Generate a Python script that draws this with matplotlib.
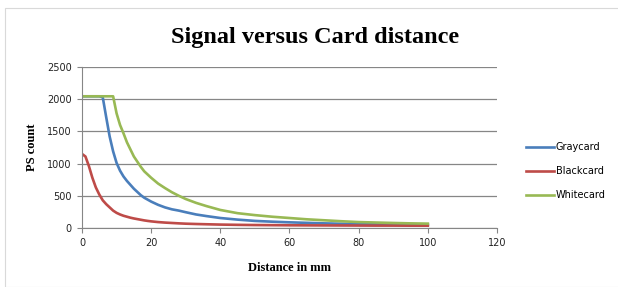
import matplotlib
matplotlib.use("Agg")
import matplotlib.pyplot as plt
from matplotlib.patches import Rectangle

# distance in mm
distance = [0, 1, 2, 3, 4, 5, 6, 7, 8, 9, 10, 11, 12, 13, 14, 15, 16, 17, 18, 19,
            20, 22, 24, 26, 28, 30, 33, 36, 40, 45, 50, 55, 60, 65, 70, 75, 80,
            85, 90, 95, 100]

graycard = [2045, 2045, 2045, 2045, 2045, 2045, 2030, 1720, 1420, 1190, 1010, 890,
            800, 730, 670, 610, 560, 510, 470, 440, 410, 360, 320, 290, 270, 245,
            210, 185, 155, 130, 110, 98, 88, 80, 72, 66, 60, 57, 55, 53, 52]

blackcard = [1150, 1110, 960, 780, 630, 520, 430, 370, 320, 270, 235, 210, 190,
             175, 160, 148, 138, 128, 118, 110, 103, 92, 84, 78, 72, 67, 62, 58,
             53, 49, 46, 44, 42, 41, 40, 39, 38, 37, 37, 36, 36]

whitecard = [2045, 2045, 2045, 2045, 2045, 2045, 2045, 2045, 2045, 2045, 1780, 1600,
             1470, 1330, 1220, 1110, 1030, 950, 880, 830, 780, 690, 620, 555, 500,
             450, 390, 340, 280, 230, 200, 175, 155, 135, 120, 105, 92, 85, 78, 72, 68]

xticks = [0, 20, 40, 60, 80, 100, 120]
yticks = [0, 500, 1000, 1500, 2000, 2500]

fig = plt.figure(figsize=(6.18, 2.87), dpi=100)
fig.patches.append(Rectangle((5 / 618, 0), 1.0, 1 - 8 / 287, transform=fig.transFigure,
                             fill=False, edgecolor="#d9d9d9", linewidth=0.8))
ax = fig.add_axes([82 / 618, 1 - 228 / 287, 415 / 618, 161 / 287])

ax.plot(distance, graycard, color="#4a7ebb", lw=1.9, label="Graycard")
ax.plot(distance, blackcard, color="#be4b48", lw=1.9, label="Blackcard")
ax.plot(distance, whitecard, color="#98b954", lw=1.9, label="Whitecard")

ax.set_xlim(0, 120)
ax.set_ylim(0, 2500)
ax.set_xticks(xticks)
ax.set_yticks(yticks)
ax.yaxis.grid(True, color="#868686", lw=0.9)
ax.set_axisbelow(True)
for s in ["top", "right"]:
    ax.spines[s].set_visible(False)
for s in ["left", "bottom"]:
    ax.spines[s].set_color("#868686")
ax.tick_params(axis="both", direction="out", length=3.5, color="#868686",
               labelsize=7, labelcolor="#222222", pad=4)

fig.text(315 / 618, 1 - 38 / 287, "Signal versus Card distance", fontsize=17.5,
         fontweight="bold", family="Liberation Serif", ha="center", va="center")
ax.set_xlabel("Distance in mm", fontsize=9, fontweight="bold",
              family="Liberation Serif", labelpad=10)
ax.set_ylabel("PS count", fontsize=9, fontweight="bold",
              family="Liberation Serif", labelpad=6)

ax.legend(loc="center left", bbox_to_anchor=(517 / 618, 1 - 171 / 287),
          bbox_transform=fig.transFigure, frameon=False, fontsize=7,
          handlelength=2.9, handletextpad=0.2, labelspacing=1.45)

fig.savefig("out.png", dpi=100)
